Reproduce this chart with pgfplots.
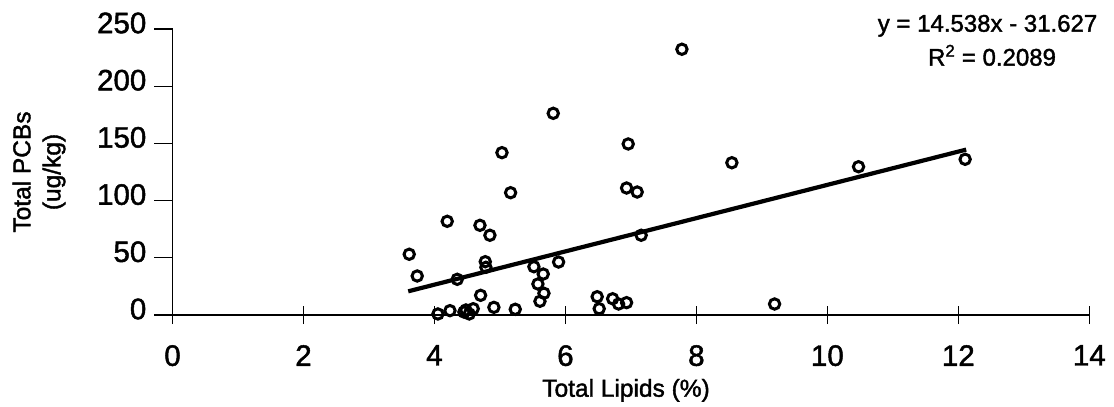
\documentclass[border=0pt]{standalone}
\usepackage{fontspec}
\setmainfont{Liberation Sans}[FakeBold=1.6]
\usepackage{pgfplots}
\pgfplotsset{compat=1.18}

\begin{document}
\begin{tikzpicture}
\path[use as bounding box] (0,0) rectangle (1114pt,407pt);
\begin{axis}[
  at={(172.5pt,92pt)}, anchor=south west,
  scale only axis,
  width=916.8pt, height=286pt,
  xmin=0, xmax=14, ymin=0, ymax=250,
  xtick={0,2,...,14},
  ytick={0,50,...,250},
  axis x line=bottom, axis y line=left,
  axis line style={-, line width=1.3pt, black},
  every tick/.style={black, line width=1.2pt},
  major tick length=18pt,
  xtick align=center, ytick align=outside,
  clip=false,
  /pgf/number format/assume math mode=true,
  tick label style={font=\fontsize{29.5}{32}\selectfont, inner sep=0pt},
  xticklabel style={anchor=north, yshift=-21pt},
  yticklabel style={anchor=east, xshift=-8pt, yshift=6pt},
  every axis x label/.style={at={(axis description cs:0.4947,-0.2857)}, anchor=base},
  every axis y label/.style={at={(axis description cs:-0.1456,0.5)}, rotate=90, anchor=center},
  xlabel={Total Lipids (\%)},
  ylabel={Total PCBs\\[3pt](ug/kg)},
  label style={font=\fontsize{24.5}{27}\selectfont, inner sep=0pt, align=center},
]
  % observations
  \addplot[only marks, mark=o, mark size=5.2pt, mark options={line width=3pt, black}]
    coordinates{
      (3.615,53.1)(3.737,34.1)(4.195,81.9)(4.348,31.2)(4.695,78.4)
      (4.847,69.7)(4.776,46.6)(4.786,41.7)(4.705,17.2)(4.053,0.9)
      (4.237,3.8)(4.481,4.4)(4.531,0.9)(4.592,5.5)(4.450,2.6)
      (4.908,6.7)(5.234,5.0)(5.163,106.9)(5.031,141.9)(5.519,42.2)
      (5.661,35.8)(5.580,27.1)(5.672,19.0)(5.611,12.0)(5.896,46.3)
      (6.485,16.0)(6.516,5.5)(6.721,14.2)(6.812,9.6)(6.934,10.8)
      (6.934,111.0)(7.096,107.5)(7.157,69.7)(7.779,232.3)(6.959,149.5)
      (8.542,133.1)(5.814,176.3)(9.194,9.6)(10.476,129.6)(12.104,136.1)
    };
  % linear trend line
  \addplot[black, line width=4.2pt] coordinates{(3.60,20.71)(12.12,144.57)};
  \node[anchor=base, font=\fontsize{24}{28}\selectfont, inner sep=0pt]
    at (axis description cs:0.889,0.9906) {y = 14.538x - 31.627};
  \node[anchor=base, font=\fontsize{24}{28}\selectfont, inner sep=0pt]
    at (axis description cs:0.8939,0.872) {R\textsuperscript{2} = 0.2089};
\end{axis}
\end{tikzpicture}
\end{document}
